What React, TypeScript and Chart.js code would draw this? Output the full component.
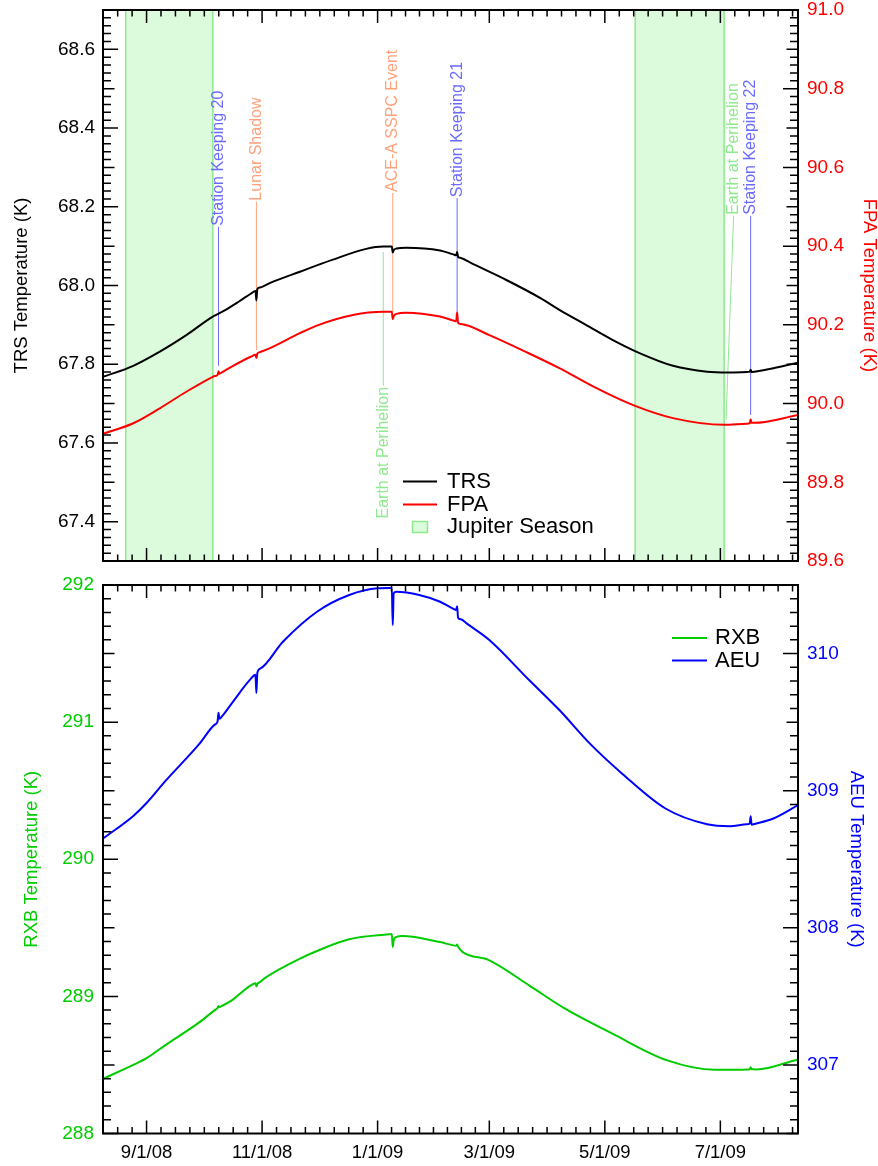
import React, { useEffect, useRef } from "react";
import { Chart, registerables } from "chart.js";

Chart.register(...registerables);

const FONT = "'Liberation Sans', Arial, Helvetica, sans-serif";

// ---------- DATA (dates may carry an hour: "YYYY-MM-DDTHH") ----------
const trsDates = [
  "2008-08-09", "2008-08-25", "2008-09-08", "2008-09-22", "2008-10-06", "2008-10-08T12", "2008-10-10",
  "2008-10-12", "2008-10-20", "2008-10-26", "2008-10-28T12", "2008-10-29", "2008-10-29T12", "2008-10-31",
  "2008-11-05", "2008-11-21", "2008-12-08", "2008-12-26", "2009-01-04", "2009-01-07", "2009-01-08T12",
  "2009-01-09", "2009-01-09T12", "2009-01-11", "2009-01-16", "2009-02-03", "2009-02-10", "2009-02-11T12",
  "2009-02-12", "2009-02-12T12", "2009-02-14", "2009-02-19", "2009-03-10", "2009-03-28", "2009-04-07",
  "2009-04-21", "2009-05-05", "2009-05-19", "2009-06-06", "2009-06-24", "2009-07-05", "2009-07-15",
  "2009-07-16T12", "2009-07-17", "2009-07-17T12", "2009-07-19", "2009-07-29", "2009-08-11",
];
const trsValues = [
  67.768, 67.796, 67.832, 67.874, 67.921, 67.927, 67.931,
  67.936, 67.960, 67.979, 67.986, 67.962, 67.991, 67.995,
  68.006, 68.035, 68.065, 68.093, 68.099, 68.099, 68.099,
  68.084, 68.090, 68.094, 68.096, 68.089, 68.079, 68.077,
  68.085, 68.073, 68.070, 68.058, 68.014, 67.968, 67.938,
  67.900, 67.862, 67.829, 67.796, 67.781, 67.779, 67.780,
  67.781, 67.786, 67.780, 67.781, 67.790, 67.804,
];

const fpaDates = [
  "2008-08-09", "2008-08-25", "2008-09-08", "2008-09-22", "2008-10-06", "2008-10-07", "2008-10-08T12",
  "2008-10-09", "2008-10-09T12", "2008-10-11", "2008-10-16", "2008-10-26", "2008-10-28T12", "2008-10-29",
  "2008-10-29T12", "2008-10-31", "2008-11-21", "2008-12-01", "2008-12-19", "2009-01-04", "2009-01-07",
  "2009-01-08T12", "2009-01-09", "2009-01-09T12", "2009-01-11", "2009-01-16", "2009-02-03", "2009-02-10",
  "2009-02-11T12", "2009-02-12", "2009-02-12T12", "2009-02-14", "2009-03-01", "2009-03-20", "2009-04-07",
  "2009-04-25", "2009-05-16", "2009-06-06", "2009-07-03", "2009-07-15", "2009-07-16T12", "2009-07-17",
  "2009-07-17T12", "2009-07-19", "2009-08-11",
];
const fpaValues = [
  89.923, 89.950, 89.988, 90.030, 90.068, 90.070, 90.073,
  90.082, 90.076, 90.080, 90.094, 90.119, 90.124, 90.116,
  90.127, 90.131, 90.179, 90.200, 90.225, 90.233, 90.233,
  90.233, 90.215, 90.222, 90.228, 90.231, 90.221, 90.211,
  90.209, 90.232, 90.205, 90.202, 90.174, 90.132, 90.090,
  90.043, 89.996, 89.963, 89.946, 89.949, 89.950, 89.960,
  89.951, 89.951, 89.971,
];

const rxbDates = [
  "2008-08-09", "2008-08-25", "2008-09-01", "2008-09-11", "2008-09-29", "2008-10-07", "2008-10-08T12",
  "2008-10-09", "2008-10-09T12", "2008-10-11", "2008-10-16", "2008-10-26", "2008-10-28T12", "2008-10-29",
  "2008-10-29T12", "2008-10-31", "2008-11-03", "2008-11-21", "2008-11-30", "2008-12-17", "2009-01-07",
  "2009-01-08T12", "2009-01-09", "2009-01-09T12", "2009-01-11", "2009-01-14", "2009-02-03", "2009-02-10",
  "2009-02-11T12", "2009-02-12", "2009-02-12T12", "2009-02-15", "2009-03-01", "2009-03-22", "2009-04-10",
  "2009-05-05", "2009-06-03", "2009-06-28", "2009-07-13", "2009-07-16", "2009-07-16T12", "2009-07-17",
  "2009-07-17T12", "2009-07-20", "2009-08-11",
];
const rxbValues = [
  288.399, 288.500, 288.549, 288.645, 288.812, 288.900, 288.915,
  288.930, 288.922, 288.932, 288.971, 289.080, 289.095, 289.073,
  289.090, 289.105, 289.138, 289.275, 289.331, 289.416, 289.453,
  289.455, 289.360, 289.410, 289.434, 289.440, 289.396, 289.372,
  289.370, 289.378, 289.362, 289.323, 289.263, 289.080, 288.910,
  288.728, 288.533, 288.465, 288.465, 288.467, 288.468, 288.484,
  288.470, 288.467, 288.540,
];

const aeuDates = [
  "2008-08-09", "2008-08-25", "2008-09-01", "2008-09-11", "2008-09-29", "2008-10-07", "2008-10-08T12",
  "2008-10-09", "2008-10-09T12", "2008-10-11", "2008-10-16", "2008-10-26", "2008-10-28T12", "2008-10-29",
  "2008-10-29T12", "2008-10-31", "2008-11-12", "2008-11-30", "2008-12-17", "2009-01-01", "2009-01-07",
  "2009-01-08T12", "2009-01-09", "2009-01-09T12", "2009-01-11", "2009-01-23", "2009-02-03", "2009-02-10",
  "2009-02-11T12", "2009-02-12", "2009-02-12T12", "2009-02-14", "2009-02-17", "2009-03-01", "2009-03-22",
  "2009-04-07", "2009-04-23", "2009-05-10", "2009-06-02", "2009-06-24", "2009-07-06", "2009-07-15",
  "2009-07-16T12", "2009-07-17", "2009-07-17T12", "2009-07-19", "2009-07-29", "2009-08-11",
];
const aeuValues = [
  308.651, 308.816, 308.910, 309.071, 309.343, 309.482, 309.505,
  309.568, 309.525, 309.545, 309.637, 309.815, 309.845, 309.712,
  309.860, 309.890, 310.086, 310.305, 310.427, 310.476, 310.478,
  310.478, 310.208, 310.440, 310.451, 310.427, 310.378, 310.326,
  310.318, 310.345, 310.262, 310.250, 310.220, 310.099, 309.807,
  309.588, 309.345, 309.126, 308.870, 308.755, 308.741, 308.755,
  308.761, 308.814, 308.752, 308.757, 308.797, 308.894,
];

const xTickDates = ["2008-09-01", "2008-11-01", "2009-01-01", "2009-03-01", "2009-05-01", "2009-07-01"];
const xTickLabels = ["9/1/08", "11/1/08", "1/1/09", "3/1/09", "5/1/09", "7/1/09"];
const xRangeDates = ["2008-08-09", "2009-08-11"];

const trsTicks = [67.4, 67.6, 67.8, 68.0, 68.2, 68.4, 68.6];
const fpaTicks = [89.6, 89.8, 90.0, 90.2, 90.4, 90.6, 90.8, 91.0];
const rxbTicks = [288, 289, 290, 291, 292];
const aeuTicks = [307, 308, 309, 310];

const seasonStarts = ["2008-08-21", "2009-05-17"];
const seasonEnds = ["2008-10-06", "2009-07-03"];

const eventNames = [
  "Station Keeping 20", "Lunar Shadow", "Earth at Perihelion", "ACE-A SSPC Event",
  "Station Keeping 21", "Earth at Perihelion", "Station Keeping 22",
];
const eventDates = ["2008-10-09", "2008-10-29", "2009-01-04", "2009-01-09", "2009-02-12", "2009-07-04", "2009-07-17"];
const eventKinds = ["sk", "anomaly", "orbit", "anomaly", "sk", "orbit", "sk"];

// ---------- annotation layout (TRS-axis units / label dates) ----------
const eventLabelDates = ["2008-10-09", "2008-10-29", "2009-01-04", "2009-01-09", "2009-02-12", "2009-07-08", "2009-07-17"];
const eventLabelAt = [68.149, 68.213, 67.745, 68.235, 68.222, 68.177, 68.177];
const eventLineEnd = [67.796, 67.836, 68.085, 67.933, 67.934, 67.658, 67.671];
const eventBelow = [false, false, true, false, false, false, false];
const kindColor: Record<string, string> = { sk: "#6a6aff", anomaly: "#ffa27c", orbit: "#8fe98f" };

const DAY0 = Date.UTC(2008, 8, 1);
function toDay(s: string): number {
  const [datePart, hourPart] = s.split("T");
  const [y, m, d] = datePart.split("-").map(Number);
  const h = hourPart ? Number(hourPart) : 0;
  return (Date.UTC(y, m - 1, d, h) - DAY0) / 86400000;
}
function pts(dates: string[], values: number[]) {
  return dates.map((d, i) => ({ x: toDay(d), y: values[i] }));
}

const xTickDays = xTickDates.map(toDay);
const X_MIN = toDay(xRangeDates[0]);
const X_MAX = toDay(xRangeDates[1]);

type YSpec = { id: string; min: number; max: number; minor: number; mid: number; major: number; side: "left" | "right" };

function drawFrameTicks(chart: any, specs: YSpec[]) {
  const { ctx, chartArea: a } = chart;
  const xs = chart.scales.x;
  ctx.save();
  ctx.strokeStyle = "#000";
  ctx.lineWidth = 1.5;
  ctx.beginPath();
  for (const s of specs) {
    const sc = chart.scales[s.id];
    const n = Math.round((s.max - s.min) / s.minor);
    for (let k = 0; k <= n; k++) {
      const v = s.min + k * s.minor;
      const isMult = (st: number) => Math.abs(v / st - Math.round(v / st)) < 1e-6;
      const len = isMult(s.major) ? 15 : isMult(s.mid) ? 11.5 : 8;
      const p = sc.getPixelForValue(v);
      if (s.side === "left") {
        ctx.moveTo(a.left, p);
        ctx.lineTo(a.left + len, p);
      } else {
        ctx.moveTo(a.right, p);
        ctx.lineTo(a.right - len, p);
      }
    }
  }
  const m = xTickDays;
  const minors: number[] = [];
  const st0 = (m[1] - m[0]) / 8;
  for (let d = m[0] - st0; d >= X_MIN - 0.5; d -= st0) minors.push(d);
  for (let i = 0; i < m.length - 1; i++) {
    const st = (m[i + 1] - m[i]) / 8;
    for (let j = 1; j < 8; j++) minors.push(m[i] + j * st);
  }
  const stN = (m[m.length - 1] - m[m.length - 2]) / 8;
  for (let d = m[m.length - 1] + stN; d <= X_MAX + 0.5; d += stN) minors.push(d);
  const xt = (d: number, len: number) => {
    const p = xs.getPixelForValue(d);
    ctx.moveTo(p, a.top);
    ctx.lineTo(p, a.top + len);
    ctx.moveTo(p, a.bottom);
    ctx.lineTo(p, a.bottom - len);
  };
  m.forEach((d) => xt(d, 13));
  minors.forEach((d) => xt(d, 6.5));
  ctx.stroke();
  ctx.lineWidth = 2;
  ctx.strokeRect(a.left, a.top, a.right - a.left, a.bottom - a.top);
  ctx.restore();
}

function xScale(showLabels: boolean, height: number) {
  return {
    type: "linear",
    min: X_MIN,
    max: X_MAX,
    grid: { display: false, drawTicks: false },
    border: { display: false },
    ticks: {
      display: showLabels,
      color: "#000",
      font: { family: FONT, size: 18.5, lineHeight: 1 },
      padding: 10,
      maxRotation: 0,
      autoSkip: false,
      callback: (v: number) => {
        const i = xTickDays.findIndex((d) => Math.abs(d - v) < 1e-6);
        return i >= 0 ? xTickLabels[i] : "";
      },
    },
    afterBuildTicks: (s: any) => {
      s.ticks = xTickDays.map((v) => ({ value: v }));
    },
    afterFit: (s: any) => {
      s.height = height;
      s.paddingLeft = 0;
      s.paddingRight = 0;
      s.paddingTop = 0;
      s.paddingBottom = 0;
    },
  };
}

function yScale(opts: {
  position: "left" | "right"; min: number; max: number; ticks: number[]; color: string;
  decimals: number; title: string; titlePad: number; width: number; labelPad: number;
}) {
  return {
    type: "linear",
    position: opts.position,
    min: opts.min,
    max: opts.max,
    grid: { display: false, drawTicks: false },
    border: { display: false },
    ticks: {
      color: opts.color,
      font: { family: FONT, size: 19, lineHeight: 1 },
      padding: opts.labelPad,
      callback: (v: number) => Number(v).toFixed(opts.decimals),
    },
    afterBuildTicks: (s: any) => {
      s.ticks = opts.ticks.map((v) => ({ value: v }));
    },
    afterFit: (s: any) => {
      s.width = opts.width;
      s.paddingTop = 0;
      s.paddingBottom = 0;
      s.paddingLeft = 0;
      s.paddingRight = 0;
    },
    title: {
      display: true,
      text: opts.title,
      color: opts.color,
      font: { family: FONT, size: 18.5, lineHeight: 1 },
      padding: { top: opts.titlePad, bottom: 0 },
    },
  };
}

function lineDs(label: string, data: any[], color: string, axis: string) {
  return {
    label,
    data,
    yAxisID: axis,
    borderColor: color,
    backgroundColor: color,
    borderWidth: 2,
    pointRadius: 0,
    fill: false,
    cubicInterpolationMode: "monotone",
  };
}

function drawLegend(chart: any, rows: { kind: string; color: string; text: string; y: number }[], lx0: number, lx1: number, tx: number) {
  const { ctx } = chart;
  ctx.save();
  ctx.font = `22px ${FONT}`;
  ctx.textBaseline = "middle";
  ctx.textAlign = "left";
  for (const r of rows) {
    if (r.kind === "line") {
      ctx.strokeStyle = r.color;
      ctx.lineWidth = 2;
      ctx.beginPath();
      ctx.moveTo(lx0, r.y);
      ctx.lineTo(lx1, r.y);
      ctx.stroke();
    } else {
      const cx = (lx0 + lx1) / 2;
      ctx.fillStyle = "#dcfadc";
      ctx.fillRect(cx - 7.5, r.y - 5.5, 15, 11);
      ctx.strokeStyle = "#8fe98f";
      ctx.lineWidth = 1.5;
      ctx.strokeRect(cx - 7.5, r.y - 5.5, 15, 11);
    }
    ctx.fillStyle = "#000";
    ctx.fillText(r.text, tx, r.y);
  }
  ctx.restore();
}

export default function App() {
  const topRef = useRef<HTMLCanvasElement>(null);
  const botRef = useRef<HTMLCanvasElement>(null);

  useEffect(() => {
    const topSpecs: YSpec[] = [
      { id: "y", min: 67.3, max: 68.7, minor: 0.02, mid: 0.1, major: 0.2, side: "left" },
      { id: "y1", min: 89.6, max: 91.0, minor: 0.02, mid: 0.1, major: 0.2, side: "right" },
    ];
    const botSpecs: YSpec[] = [
      { id: "y", min: 288, max: 292, minor: 0.1, mid: 0.5, major: 1, side: "left" },
      { id: "y1", min: 306.5, max: 310.5, minor: 0.1, mid: 0.5, major: 1, side: "right" },
    ];

    const topPlugin = {
      id: "topDecor",
      beforeDatasetsDraw(chart: any) {
        const { ctx, chartArea: a } = chart;
        const xs = chart.scales.x;
        const ys = chart.scales.y;
        ctx.save();
        for (let i = 0; i < seasonStarts.length; i++) {
          const x1 = xs.getPixelForValue(toDay(seasonStarts[i]));
          const x2 = xs.getPixelForValue(toDay(seasonEnds[i]));
          ctx.fillStyle = "#dcfadc";
          ctx.fillRect(x1, a.top, x2 - x1, a.bottom - a.top);
          ctx.strokeStyle = "#8fe98f";
          ctx.lineWidth = 1.5;
          ctx.beginPath();
          ctx.moveTo(x1, a.top);
          ctx.lineTo(x1, a.bottom);
          ctx.moveTo(x2, a.top);
          ctx.lineTo(x2, a.bottom);
          ctx.stroke();
        }
        ctx.font = `16px ${FONT}`;
        ctx.textBaseline = "middle";
        for (let i = 0; i < eventNames.length; i++) {
          const col = kindColor[eventKinds[i]];
          const lx = xs.getPixelForValue(toDay(eventLabelDates[i]));
          const ex = xs.getPixelForValue(toDay(eventDates[i]));
          const ly = ys.getPixelForValue(eventLabelAt[i]);
          const ey = ys.getPixelForValue(eventLineEnd[i]);
          ctx.strokeStyle = col;
          ctx.lineWidth = 1;
          ctx.beginPath();
          ctx.moveTo(lx, ly);
          ctx.lineTo(ex, ey);
          ctx.stroke();
          ctx.save();
          ctx.translate(lx, eventBelow[i] ? ly + 1 : ly - 1);
          ctx.rotate(-Math.PI / 2);
          ctx.textAlign = eventBelow[i] ? "right" : "left";
          ctx.fillStyle = col;
          ctx.fillText(eventNames[i], 0, 0);
          ctx.restore();
        }
        ctx.restore();
      },
      afterDatasetsDraw(chart: any) {
        drawFrameTicks(chart, topSpecs);
        drawLegend(
          chart,
          [
            { kind: "line", color: "#000000", text: "TRS", y: 481.5 },
            { kind: "line", color: "#ff0000", text: "FPA", y: 504.5 },
            { kind: "box", color: "#8fe98f", text: "Jupiter Season", y: 527 },
          ],
          403, 437, 447
        );
      },
    };

    const botPlugin = {
      id: "botDecor",
      afterDatasetsDraw(chart: any) {
        drawFrameTicks(chart, botSpecs);
        drawLegend(
          chart,
          [
            { kind: "line", color: "#00cc00", text: "RXB", y: 66 },
            { kind: "line", color: "#0000ff", text: "AEU", y: 88.5 },
          ],
          672, 707, 715
        );
      },
    };

    const top = new Chart(topRef.current as HTMLCanvasElement, {
      type: "line",
      data: {
        datasets: [
          lineDs("FPA", pts(fpaDates, fpaValues), "#ff0000", "y1"),
          lineDs("TRS", pts(trsDates, trsValues), "#000000", "y"),
        ] as any,
      },
      options: {
        animation: false,
        responsive: false,
        devicePixelRatio: 1,
        layout: { padding: { top: 10, left: 0, right: 0, bottom: 0 } },
        plugins: { legend: { display: false }, tooltip: { enabled: false } },
        scales: {
          x: xScale(false, 11),
          y: yScale({ position: "left", min: 67.3, max: 68.7, ticks: trsTicks, color: "#000000", decimals: 1, title: "TRS Temperature (K)", titlePad: 13, width: 103, labelPad: 8 }),
          y1: yScale({ position: "right", min: 89.6, max: 91.0, ticks: fpaTicks, color: "#ff0000", decimals: 1, title: "FPA Temperature (K)", titlePad: 0, width: 80, labelPad: 9 }),
        } as any,
      } as any,
      plugins: [topPlugin as any],
    });

    const bot = new Chart(botRef.current as HTMLCanvasElement, {
      type: "line",
      data: {
        datasets: [
          lineDs("RXB", pts(rxbDates, rxbValues), "#00cc00", "y"),
          lineDs("AEU", pts(aeuDates, aeuValues), "#0000ff", "y1"),
        ] as any,
      },
      options: {
        animation: false,
        responsive: false,
        devicePixelRatio: 1,
        layout: { padding: { top: 13, left: 0, right: 0, bottom: 0 } },
        plugins: { legend: { display: false }, tooltip: { enabled: false } },
        scales: {
          x: xScale(true, 32.5),
          y: yScale({ position: "left", min: 288, max: 292, ticks: rxbTicks, color: "#00cc00", decimals: 0, title: "RXB Temperature (K)", titlePad: 23, width: 103, labelPad: 9 }),
          y1: yScale({ position: "right", min: 306.5, max: 310.5, ticks: aeuTicks, color: "#0000ff", decimals: 0, title: "AEU Temperature (K)", titlePad: 13, width: 80, labelPad: 9 }),
        } as any,
      } as any,
      plugins: [botPlugin as any],
    });

    return () => {
      top.destroy();
      bot.destroy();
    };
  }, []);

  return (
    <div style={{ position: "absolute", left: 0, top: 0, width: 878, height: 1166, background: "#ffffff" }}>
      <canvas ref={topRef} width={878} height={572} style={{ position: "absolute", left: 0, top: 0 }} />
      <canvas ref={botRef} width={878} height={594} style={{ position: "absolute", left: 0, top: 572 }} />
    </div>
  );
}
